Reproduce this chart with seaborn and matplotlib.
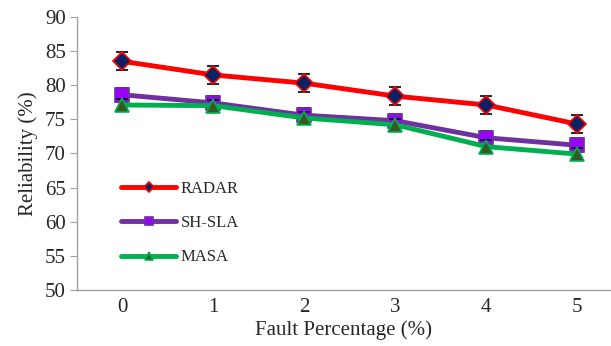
import matplotlib
matplotlib.use("Agg")
import matplotlib.pyplot as plt
import seaborn as sns
import pandas as pd

fault_pct = [0, 1, 2, 3, 4, 5]
radar = [83.5, 81.5, 80.3, 78.4, 77.1, 74.3]
sh_sla = [78.6, 77.4, 75.6, 74.8, 72.3, 71.2]
masa = [77.1, 77.0, 75.2, 74.2, 71.0, 69.9]
radar_err = [1.3, 1.3, 1.3, 1.3, 1.3, 1.3]
sh_sla_err = [1.0, 1.0, 1.0, 1.0, 1.0, 1.0]
masa_err = [0.9, 0.9, 0.9, 0.9, 0.9, 0.9]
series_names = ["RADAR", "SH-SLA", "MASA"]
y_ticks = [50, 55, 60, 65, 70, 75, 80, 85, 90]

sns.set_style("white")
plt.rcParams["font.family"] = ["Liberation Serif", "DejaVu Serif"]

df = pd.DataFrame({
    "fault": fault_pct * 3,
    "reliability": radar + sh_sla + masa,
    "series": [n for n in series_names for _ in fault_pct],
})

styles = {
    "RADAR": dict(color="#FF0000", marker="D", mfc="#0B2161", mec="#FF0000", ms=9),
    "SH-SLA": dict(color="#7030A0", marker="s", mfc="#9900FF", mec="#7030A0", ms=10),
    "MASA": dict(color="#00B050", marker="^", mfc="#385723", mec="#00B050", ms=10),
}
errs = {"RADAR": radar_err, "SH-SLA": sh_sla_err, "MASA": masa_err}

fig = plt.figure(figsize=(6.11, 3.46), dpi=100)
ax = fig.add_axes([0.126, 0.162, 0.874, 0.789])

for i, name in enumerate(series_names):
    sub = df[df["series"] == name]
    ax.errorbar(sub["fault"], sub["reliability"], yerr=errs[name], fmt="none",
                ecolor="black", elinewidth=1.2, capsize=4.5, capthick=1.2,
                zorder=2 + i * 3)
    st = styles[name]
    sns.lineplot(data=sub, x="fault", y="reliability", ax=ax,
                 color=st["color"], lw=3.5, marker=st["marker"],
                 markersize=st["ms"], markerfacecolor=st["mfc"],
                 markeredgecolor=st["mec"], markeredgewidth=1.2,
                 zorder=3 + i * 3, label=name)

leg = ax.legend(loc="upper left", bbox_to_anchor=(0.055, 0.455), frameon=False,
                fontsize=12, handlelength=3.3, labelspacing=1.1,
                handletextpad=0.25, markerscale=0.6)

ax.set_xlim(-0.5, 5.37)
ax.set_ylim(50, 90)
ax.set_yticks(y_ticks)
ax.set_xticks(fault_pct)
ax.set_xlabel("Fault Percentage (%)", fontsize=15, labelpad=2)
ax.set_ylabel("Reliability (%)", fontsize=15, labelpad=5)
ax.tick_params(axis="y", labelsize=15, length=5, color="#A0A0A0", direction="out", left=True, pad=3)
ax.tick_params(axis="x", labelsize=15, length=0, pad=6)
for s in ["top", "right"]:
    ax.spines[s].set_visible(False)
for s in ["left", "bottom"]:
    ax.spines[s].set_color("#A0A0A0")
    ax.spines[s].set_linewidth(1.0)

fig.savefig("out.png", dpi=100)
